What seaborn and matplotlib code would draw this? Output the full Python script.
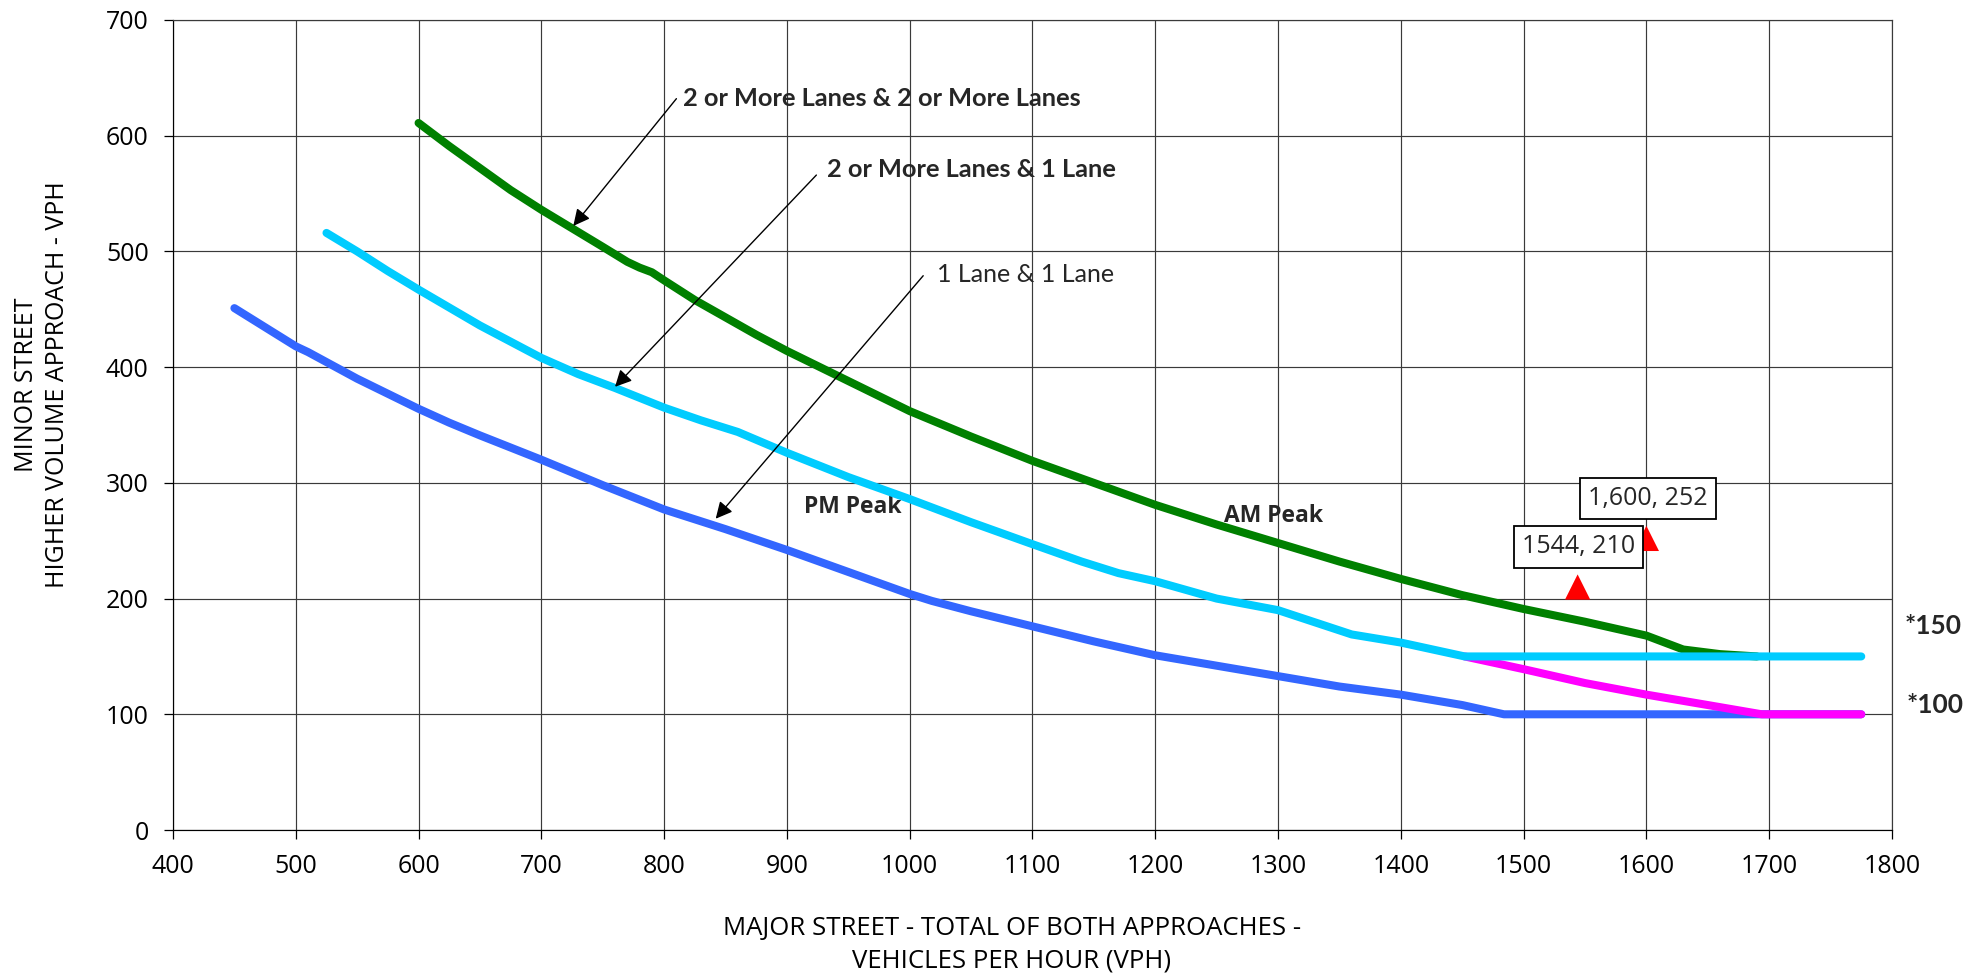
import matplotlib
matplotlib.use("Agg")
import matplotlib.pyplot as plt
import seaborn as sns

# Peak-hour warrant curves: major street total (x) vs minor street higher approach (y)
two_two_x = [600, 625, 650, 675, 700, 725, 750, 770, 780, 790, 800, 825, 850, 875,
             900, 950, 1000, 1050, 1100, 1150, 1200, 1250, 1300, 1350, 1400, 1450,
             1500, 1550, 1600, 1630, 1660, 1690]
two_two_y = [611, 591, 572, 553, 536, 520, 504, 491, 486, 482, 475, 458, 443, 428,
             414, 388, 362, 340, 319, 300, 281, 264, 248, 232, 217, 203,
             191, 180, 168, 156, 152, 150]

two_one_x = [525, 550, 575, 600, 650, 700, 730, 760, 800, 830, 860, 900, 950, 1000,
             1050, 1100, 1140, 1170, 1200, 1250, 1300, 1360, 1400, 1452, 1500, 1600,
             1700, 1775]
two_one_y = [516, 500, 483, 467, 436, 408, 394, 382, 365, 354, 344, 326, 305, 286,
             266, 247, 232, 222, 215, 200, 190, 169, 162, 150, 150, 150,
             150, 150]

# continuation of the 2+ & 1 curve below the 150 vph floor
two_one_low_x = [1452, 1500, 1550, 1600, 1650, 1694, 1775]
two_one_low_y = [150, 139, 127, 117, 108, 100, 100]

one_one_x = [450, 500, 510, 550, 575, 600, 625, 650, 700, 750, 800, 850, 900, 950,
             1000, 1018, 1050, 1100, 1150, 1200, 1250, 1300, 1350, 1400, 1450, 1484,
             1600, 1700, 1775]
one_one_y = [451, 418, 413, 390, 377, 364, 352, 341, 320, 298, 277, 260, 242, 223,
             204, 198, 189, 176, 163, 151, 142, 133, 124, 117, 108, 100,
             100, 100, 100]

# observed intersection counts
obs_x = [1544, 1600]
obs_y = [210, 252]
obs_labels = ["1544, 210", "1,600, 252"]

x_ticks = list(range(400, 1801, 100))
y_ticks = list(range(0, 701, 100))

sns.set_theme(style="white")
plt.rcParams["font.family"] = ["Open Sans", "DejaVu Sans"]

fig = plt.figure(figsize=(19.84, 9.75), dpi=100)
ax = fig.add_axes([0.0872, 0.1487, 0.8664, 0.8308])

line_kw = dict(lw=5.8, sort=False, estimator=None, legend=False,
               solid_capstyle="round", solid_joinstyle="round")
sns.lineplot(x=one_one_x, y=one_one_y, color="#3366FF", ax=ax, zorder=3, **line_kw)
sns.lineplot(x=two_one_low_x, y=two_one_low_y, color="#FF00FF", ax=ax, zorder=4, **line_kw)
sns.lineplot(x=two_two_x, y=two_two_y, color="#008000", ax=ax, zorder=5, **line_kw)
sns.lineplot(x=two_one_x, y=two_one_y, color="#00CCFF", ax=ax, zorder=6, **line_kw)

sns.scatterplot(x=obs_x, y=obs_y, marker="^", s=330, color="#FF0000",
                edgecolor="none", ax=ax, zorder=7, legend=False)

ax.set_xlim(400, 1800)
ax.set_ylim(0, 700)
ax.set_xticks(x_ticks)
ax.set_yticks(y_ticks)
ax.grid(True, color="#3a3a3a", lw=0.85)
ax.set_axisbelow(True)
for s in ax.spines.values():
    s.set_color("#3a3a3a")
    s.set_linewidth(0.85)
ax.spines["left"].set_color("black")
ax.spines["bottom"].set_color("black")
ax.tick_params(axis="both", which="major", direction="out", length=6.5, width=0.9,
               color="black", labelsize=18, labelcolor="black")
ax.tick_params(axis="x", pad=11, bottom=True)
ax.tick_params(axis="y", pad=11, left=True)
ax.set_xlabel("")
ax.set_ylabel("")

fig.text(0.510, 0.031, "MAJOR STREET - TOTAL OF BOTH APPROACHES -\nVEHICLES PER HOUR (VPH)",
         ha="center", va="center", fontsize=18.5, linespacing=1.35, color="black")
fig.text(0.0212, 0.605, "MINOR STREET\nHIGHER VOLUME APPROACH - VPH", rotation=90,
         ha="center", va="center", multialignment="center", fontsize=18,
         linespacing=1.35, color="black")

arrow_kw = dict(arrowstyle="-|>", color="black", lw=1.0, shrinkA=0, shrinkB=0,
                mutation_scale=25)
lab_font = ["Lato", "DejaVu Sans"]
ax.annotate("", xy=(726, 522), xytext=(810, 632), arrowprops=arrow_kw, zorder=8)
ax.text(815, 632, "2 or More Lanes & 2 or More Lanes", fontsize=18.3, fontweight="bold",
        family=lab_font, ha="left", va="center")
ax.annotate("", xy=(760, 383), xytext=(924, 566), arrowprops=arrow_kw, zorder=8)
ax.text(933, 571, "2 or More Lanes & 1 Lane", fontsize=18.3, fontweight="bold",
        family=lab_font, ha="left", va="center")
ax.annotate("", xy=(842, 269), xytext=(1011, 479), arrowprops=arrow_kw, zorder=8)
ax.text(1022, 480, "1 Lane & 1 Lane", fontsize=18, family=lab_font,
        ha="left", va="center")

ax.text(954, 279, "PM Peak", fontsize=16.5, fontweight="bold", ha="center", va="center")
ax.text(1296, 271, "AM Peak", fontsize=16.5, fontweight="bold", ha="center", va="center")

label_pos = [(1544.6, 244.6), (1601, 286.5)]
for (lx, ly), txt in zip(label_pos, obs_labels):
    ax.text(lx, ly, txt, fontsize=18, ha="center", va="center", zorder=9,
            bbox=dict(boxstyle="square,pad=0.33", fc="white", ec="black", lw=1.3))

fig.text(0.9745, 0.358, "*150", fontsize=19, fontweight="bold", family=lab_font,
         ha="center", va="center")
fig.text(0.9755, 0.277, "*100", fontsize=19, fontweight="bold", family=lab_font,
         ha="center", va="center")

fig.savefig("out.png", dpi=100, facecolor="white")
